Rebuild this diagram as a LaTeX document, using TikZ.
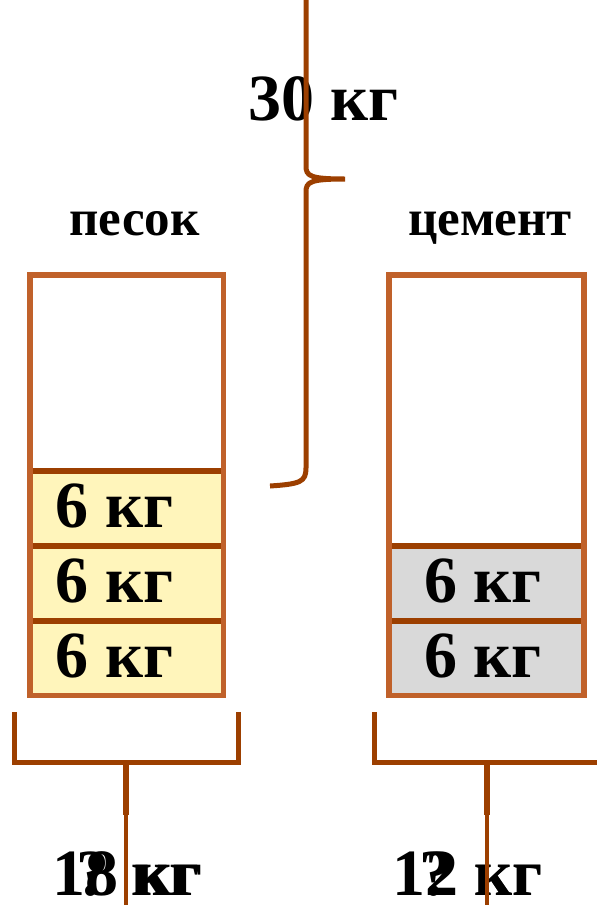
\documentclass[tikz,border=0pt]{standalone}
\usepackage{fontspec}
\setmainfont{Liberation Serif}
\usetikzlibrary{positioning}
\definecolor{boxedge}{HTML}{C0612A}
\definecolor{bracecol}{HTML}{9C3F00}
\definecolor{sand}{HTML}{FFF5BB}
\definecolor{cement}{HTML}{D9D9D9}

\begin{document}
\begin{tikzpicture}[x=1pt, y=-1pt, on grid, node distance=75pt,
  lbl/.style={font=\fontsize{66}{66}\selectfont\bfseries, inner sep=0pt},
  title/.style={font=\fontsize{51}{51}\selectfont\bfseries, inner sep=0pt, anchor=base},
  part/.style={minimum width=192pt, minimum height=75pt, inner sep=0pt},
  divider/.style={bracecol, line width=6pt},
  outline/.style={boxedge, line width=5.5pt},
  bracket/.style={bracecol, line width=5pt},
  stem/.style={bracecol, line width=6pt},
  tail/.style={bracecol, line width=4pt}]
  \useasboundingbox (0,0) rectangle (597,905);

  % sand column
  \node[part, fill=sand] (s_1) at (126.5,658.5) {};
  \node[part, fill=sand] (s_2) [above=of s_1] {};
  \node[part, fill=sand] (s_3) [above=of s_2] {};
  \foreach \s in {s_1,s_2,s_3}
    \node[lbl] at ([xshift=-12pt,yshift=3pt]\s) {6 кг};
  \foreach \s in {s_1,s_2,s_3}
    \draw[divider] (\s.north west) -- (\s.north east);
  \draw[outline] (30,275) rectangle (223.5,695.5);

  % cement column
  \node[part, fill=cement] (c_1) at (486.5,658.5) {};
  \node[part, fill=cement] (c_2) [above=of c_1] {};
  \foreach \s in {c_1,c_2}
    \node[lbl] at ([xshift=-3.5pt,yshift=3pt]\s) {6 кг};
  \foreach \s in {c_1,c_2}
    \draw[divider] (\s.north west) -- (\s.north east);
  \draw[outline] (389,275) rectangle (584,695.5);

  % titles
  \node[title] (sand) at (134.5,235) {песок};
  \node[title] (cem) at (490,235) {цемент};
  \node[lbl, anchor=base] (total) at (323.5,120) {30 кг};

  % bottom labels (two texts on top of each other)
  \node[lbl, anchor=base west] (sand_kg) at (52,895) {18 кг};
  \node[lbl, anchor=base west] (sand_q) at (76,895) {? кг};
  \node[lbl, anchor=base east] (cem_kg) at (543,895) {12 кг};
  \node[lbl, anchor=base east] (cem_q) at (543,895) {? кг};

  % brace over the whole
  \coordinate (b_end) at (270,486);
  \coordinate (b_tip) at (345,179);
  \draw[bracket] (b_end) .. controls (300,484) and (306,482) .. (306,468)
    -- (306,192) .. controls (306,182) and (310,179) .. (b_tip)
    (b_tip) .. controls (310,179) and (306,176) .. (306,166) -- (306,0);

  % brackets under the columns
  \draw[bracket] (14,712) -- (14,762) -- (238,762) -- (238,712);
  \draw[bracket] (374,712) -- (374,762) -- (600,762);
  \coordinate (l_top) at (126,762);
  \coordinate (l_mid) at (126,815);
  \coordinate (l_end) at (126,905);
  \coordinate (r_top) at (487,762);
  \coordinate (r_mid) at (487,815);
  \coordinate (r_end) at (487,905);
  \draw[stem] (l_top) -- (l_mid);
  \draw[tail] (l_mid) -- (l_end);
  \draw[stem] (r_top) -- (r_mid);
  \draw[tail] (r_mid) -- (r_end);
\end{tikzpicture}
\end{document}
